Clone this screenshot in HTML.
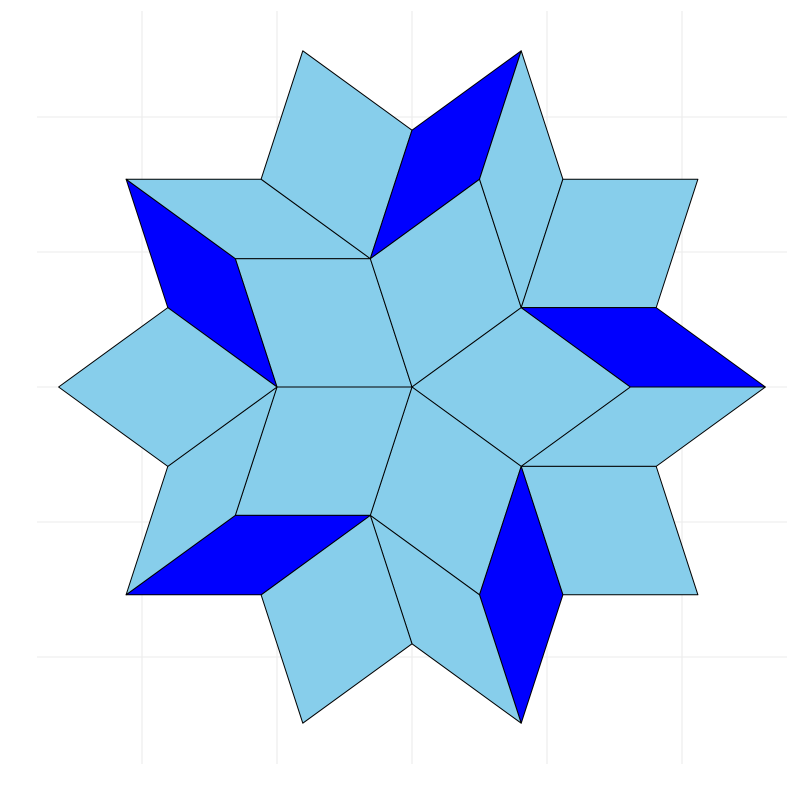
<!DOCTYPE html>
<html><head><meta charset="utf-8">
<style>
html,body{margin:0;padding:0;background:#fff;}
svg{display:block;}
</style></head>
<body>
<svg id="chart" width="799" height="800" viewBox="0 0 799 800" xmlns="http://www.w3.org/2000/svg">
<g id="grid"></g>
<g id="tiles"></g>
</svg>
<script>
// Data (in data units; 1 unit = rhombus edge length)
const xTicks = [-2, -1, 0, 1, 2];
const yTicks = [2.0, 1.0, 0, -1.0, -2.0];
// Polygons: vertices as [x, y] in data units
const polyVerts = [
 [[0,0],[-1,0],[-1.309,0.951],[-0.309,0.951]],
 [[0,0],[-0.309,0.951],[0.5,1.539],[0.809,0.588]],
 [[0,0],[0.809,0.588],[1.618,0],[0.809,-0.588]],
 [[0,0],[0.809,-0.588],[0.5,-1.539],[-0.309,-0.951]],
 [[0,0],[-0.309,-0.951],[-1.309,-0.951],[-1,0]],
 [[-2.118,1.539],[-1.309,0.951],[-1,0],[-1.809,0.588]],
 [[-2.118,1.539],[-1.118,1.539],[-0.309,0.951],[-1.309,0.951]],
 [[-1.118,1.539],[-0.809,2.490],[0,1.902],[-0.309,0.951]],
 [[0,1.902],[0.809,2.490],[0.5,1.539],[-0.309,0.951]],
 [[0.809,2.490],[1.118,1.539],[0.809,0.588],[0.5,1.539]],
 [[1.118,1.539],[2.118,1.539],[1.809,0.588],[0.809,0.588]],
 [[0.809,0.588],[1.809,0.588],[2.618,0],[1.618,0]],
 [[1.618,0],[2.618,0],[1.809,-0.588],[0.809,-0.588]],
 [[0.809,-0.588],[1.809,-0.588],[2.118,-1.539],[1.118,-1.539]],
 [[0.809,-0.588],[1.118,-1.539],[0.809,-2.490],[0.5,-1.539]],
 [[0.5,-1.539],[0.809,-2.490],[0,-1.902],[-0.309,-0.951]],
 [[-0.309,-0.951],[0,-1.902],[-0.809,-2.490],[-1.118,-1.539]],
 [[-2.118,-1.539],[-1.309,-0.951],[-0.309,-0.951],[-1.118,-1.539]],
 [[-2.118,-1.539],[-1.809,-0.588],[-1,0],[-1.309,-0.951]],
 [[-1.809,-0.588],[-2.618,0],[-1.809,0.588],[-1,0]]
];
const polyFill = ["light","light","light","light","light",
 "dark","light","light","dark","light","light","dark","light","light","dark","light","light","dark","light","light"];
const colors = {light:"#87CEEB", dark:"#0000FF"};

// Axis functions
const X0 = 412, Y0 = 387, S = 135;
function sx(v){ return X0 + v*S; }
function sy(v){ return Y0 - v*S; }
const plotL = 37, plotR = 787, plotT = 11, plotB = 764;

const NS = "http://www.w3.org/2000/svg";
const grid = document.getElementById('grid');
xTicks.forEach(function(t){
  const l = document.createElementNS(NS,'line');
  
  
  l.setAttribute('x1',sx(t)); l.setAttribute('x2',sx(t));
  l.setAttribute('y1',plotT); l.setAttribute('y2',plotB);
  l.setAttribute('stroke','#ebebeb'); l.setAttribute('stroke-width','1.1');
  grid.appendChild(l);
});
yTicks.forEach(function(t){
  const l = document.createElementNS(NS,'line');
  
  
  l.setAttribute('x1',plotL); l.setAttribute('x2',plotR);
  l.setAttribute('y1',sy(t)); l.setAttribute('y2',sy(t));
  l.setAttribute('stroke','#ebebeb'); l.setAttribute('stroke-width','1.1');
  grid.appendChild(l);
});
const tiles = document.getElementById('tiles');
polyVerts.forEach(function(vs,i){
  const p = document.createElementNS(NS,'polygon');
  
  
  p.setAttribute('points', vs.map(function(v){return sx(v[0]).toFixed(1)+','+sy(v[1]).toFixed(1);}).join(' '));
  p.setAttribute('fill', colors[polyFill[i]]);
  p.setAttribute('stroke','#000');
  p.setAttribute('stroke-width','1');
  p.setAttribute('stroke-linejoin','round');
  tiles.appendChild(p);
});
</script>
</body></html>
